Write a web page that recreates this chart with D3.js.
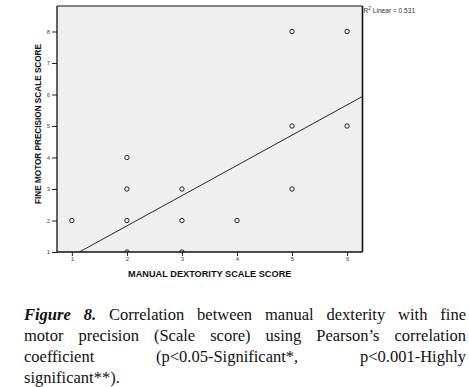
<!DOCTYPE html>
<html>
<head>
<meta charset="utf-8">
<script src="https://cdn.jsdelivr.net/npm/d3@7"></script>
<style>
  html, body { margin: 0; padding: 0; background: #fff; }
  svg { display: block; }
  .axis text { font-family: Arial, "Liberation Sans", sans-serif; font-size: 6px; fill: #444; }
  .axis path { display: none; }
  .axis line { stroke: #222; }
</style>
</head>
<body>
<svg width="469" height="387"></svg>
<script>
// values
const dexterity = [1, 2, 2, 2, 2, 3, 3, 3, 4, 5, 5, 5, 6, 6];
const precision = [2, 4, 3, 2, 1, 3, 2, 1, 2, 8, 5, 3, 8, 5];
const xTicks = [1, 2, 3, 4, 5, 6];
const yTicks = [1, 2, 3, 4, 5, 6, 7, 8];
const fitSlope = 0.96;
const fitIntercept = -0.09;
const rSquared = 0.531;
const xTitle = 'MANUAL DEXTORITY SCALE SCORE';
const yTitle = 'FINE MOTOR PRECISION SCALE SCORE';
const captionLines = [
  [['Figure', true], ['8.', true], ['Correlation'], ['between'], ['manual'], ['dexterity'], ['with'], ['fine']],
  [['motor'], ['precision'], ['(Scale'], ['score)'], ['using'], ['Pearson\u2019s'], ['correlation']],
  [['coefficient'], ['(p<0.05-Significant*,'], ['p<0.001-Highly']],
  [['significant**).']]
];

const svg = d3.select('svg');
const plot = { left: 57, right: 362.5, top: 6, bottom: 252 };

const x = d3.scaleLinear().domain([0.73, 6.28]).range([plot.left, plot.right]);
const y = d3.scaleLinear().domain([1, 8.81]).range([plot.bottom, plot.top]);

svg.append('defs').append('clipPath').attr('id', 'plotclip')
  .append('rect')
  .attr('x', plot.left).attr('y', plot.top)
  .attr('width', plot.right - plot.left).attr('height', plot.bottom - plot.top);

// plot background
svg.append('rect')
  .attr('x', plot.left).attr('y', plot.top)
  .attr('width', plot.right - plot.left).attr('height', plot.bottom - plot.top)
  .attr('fill', '#efefef');

// axes
svg.append('g').attr('class', 'axis')
  .attr('transform', `translate(${plot.left},0)`)
  .call(d3.axisLeft(y).tickValues(yTicks).tickSize(5).tickPadding(2).tickFormat(d3.format('d')));
svg.append('g').attr('class', 'axis')
  .attr('transform', `translate(0,${plot.bottom})`)
  .call(d3.axisBottom(x).tickValues(xTicks).tickSize(4).tickPadding(1).tickFormat(d3.format('d')));

const inner = svg.append('g').attr('clip-path', 'url(#plotclip)');

// fit line, from y = 1 to the right edge
const x0 = (1 - fitIntercept) / fitSlope;
const x1 = x.domain()[1];
inner.append('line')
  .attr('x1', x(x0)).attr('y1', y(fitIntercept + fitSlope * x0))
  .attr('x2', x(x1)).attr('y2', y(fitIntercept + fitSlope * x1))
  .attr('stroke', '#111').attr('stroke-width', 0.9);

// points
inner.selectAll('circle')
  .data(dexterity.map((d, i) => [d, precision[i]]))
  .join('circle')
  .attr('cx', d => x(d[0]))
  .attr('cy', d => y(d[1]))
  .attr('r', 2.2)
  .attr('fill', 'none')
  .attr('stroke', '#111')
  .attr('stroke-width', 0.9);

// frame
svg.append('line').attr('x1', plot.left).attr('x2', plot.right).attr('y1', plot.top).attr('y2', plot.top)
  .attr('stroke', '#111').attr('stroke-width', 1);
svg.append('line').attr('x1', plot.left).attr('x2', plot.right).attr('y1', plot.bottom).attr('y2', plot.bottom)
  .attr('stroke', '#111').attr('stroke-width', 1.3);
svg.append('line').attr('x1', plot.left).attr('x2', plot.left).attr('y1', plot.top).attr('y2', plot.bottom)
  .attr('stroke', '#111').attr('stroke-width', 1.3);
svg.append('line').attr('x1', plot.right).attr('x2', plot.right).attr('y1', plot.top).attr('y2', plot.bottom)
  .attr('stroke', '#111').attr('stroke-width', 1.6);

// R² label
const r2 = svg.append('text')
  .attr('x', plot.right + 1).attr('y', 12.5)
  .attr('font-family', 'Arial, "Liberation Sans", sans-serif')
  .attr('font-size', 6.6).attr('fill', '#333');
r2.append('tspan').text('R');
r2.append('tspan').attr('font-size', 4.8).attr('dy', -2.6).text('2');
r2.append('tspan').attr('dy', 2.6).text(' Linear = ' + rSquared);

// axis titles
svg.append('text')
  .attr('x', (plot.left + plot.right) / 2).attr('y', 277)
  .attr('text-anchor', 'middle')
  .attr('font-family', 'Arial, "Liberation Sans", sans-serif')
  .attr('font-weight', 'bold').attr('font-size', 9.2).attr('fill', '#111')
  .text(xTitle);
svg.append('text')
  .attr('transform', `translate(40.5,124) rotate(-90)`)
  .attr('text-anchor', 'middle')
  .attr('font-family', 'Arial, "Liberation Sans", sans-serif')
  .attr('font-weight', 'bold').attr('font-size', 8.2).attr('fill', '#111')
  .text(yTitle);

// caption, justified between left and right margins
const capLeft = 24, capRight = 466, capTop = 320, capStep = 21;
captionLines.forEach((words, li) => {
  const g = svg.append('g');
  const nodes = words.map(w => g.append('text')
    .attr('y', capTop + li * capStep)
    .attr('font-family', '"Liberation Serif", "Times New Roman", serif')
    .attr('font-size', 16.5)
    .attr('font-weight', w[1] ? 'bold' : 'normal')
    .attr('font-style', w[1] ? 'italic' : 'normal')
    .attr('fill', '#111')
    .text(w[0]));
  const widths = nodes.map(n => n.node().getComputedTextLength());
  const last = li === captionLines.length - 1;
  const gap = (last || words.length < 2) ? 4 :
    (capRight - capLeft - d3.sum(widths)) / (words.length - 1);
  let cx = capLeft;
  nodes.forEach((n, i) => { n.attr('x', cx); cx += widths[i] + gap; });
});
</script>
</body>
</html>
